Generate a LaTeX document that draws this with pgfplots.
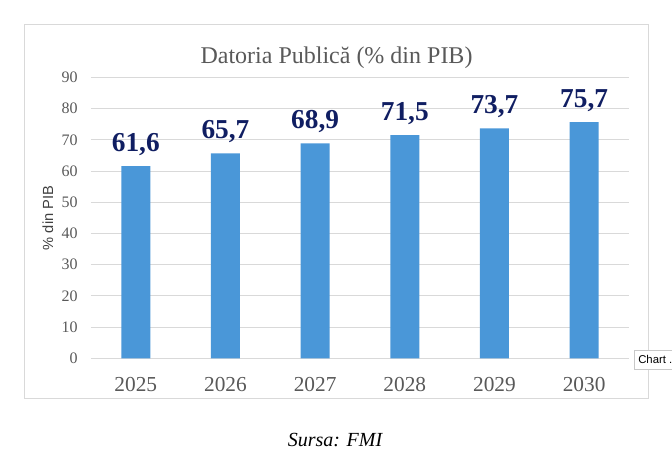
\documentclass[border=0pt]{standalone}
\usepackage{fontspec}
\setmainfont{Liberation Serif}
\setsansfont{Liberation Sans}
\usepackage{pgfplots}
\pgfplotsset{compat=1.18}
\definecolor{bargreen}{RGB}{74,151,216}
\definecolor{navy}{RGB}{16,30,98}
\definecolor{txtgray}{RGB}{89,89,89}
\definecolor{gridgray}{RGB}{217,217,217}
\begin{document}
\begin{tikzpicture}[x=0.75pt,y=-0.75pt]
\useasboundingbox (0,0) rectangle (672,464);
% chart frame
\draw[gridgray, line width=0.75pt] (24,24) rectangle (648,398);
\begin{axis}[
  at={(68.25pt,-268.725pt)}, anchor=south west,
  scale only axis, width=403.5pt, height=210.6pt,
  xmin=-0.5, xmax=5.5, ymin=0, ymax=90,
  ybar, bar width=21.75pt,
  axis line style={draw=none},
  major tick length=0pt,
  ymajorgrids, grid style={color=gridgray, line width=0.75pt},
  ytick={0,10,...,90},
  xtick={0,1,2,3,4,5},
  xticklabels={2025,2026,2027,2028,2029,2030},
  /pgf/number format/assume math mode=true,
  yticklabel style={font=\fontsize{12}{14}\selectfont, text=txtgray, anchor=east, xshift=-6.5pt},
  xticklabel style={font=\fontsize{16}{19}\selectfont, text=txtgray, anchor=base, yshift=-24.7pt},
  nodes near coords={\pgfmathprintnumber[use comma, fixed, fixed zerofill, precision=1, assume math mode=true]{\pgfplotspointmeta}},
  every node near coord/.append style={anchor=base, yshift=11.2pt, font=\bfseries\fontsize{20.5}{24}\selectfont, text=navy},
]
\addplot[fill=bargreen, draw=none] coordinates {(0,61.6) (1,65.7) (2,68.9) (3,71.5) (4,73.7) (5,75.7)};
\end{axis}
% title
\node[anchor=base, font=\fontsize{18}{21}\selectfont, text=txtgray] at (336.5,63.3) {Datoria Publică (\% din PIB)};
% y label
\node[rotate=90, anchor=center, font=\sffamily\fontsize{11}{13}\selectfont, text={rgb,255:red,64;green,64;blue,64}] at (48,218) {\% din PIB};
% source
\node[anchor=base, font=\itshape\fontsize{15}{18}\selectfont] at (335,446.7) {Sursa: FMI};
% tooltip artifact
\draw[fill=white, draw={rgb,255:red,200;green,200;blue,200}, line width=0.5pt] (634,350) rectangle (690,369);
\node[anchor=base west, font=\sffamily\fontsize{8.5}{10}\selectfont, inner sep=0pt] at (638,363.5) {Chart .};
\end{tikzpicture}
\end{document}
